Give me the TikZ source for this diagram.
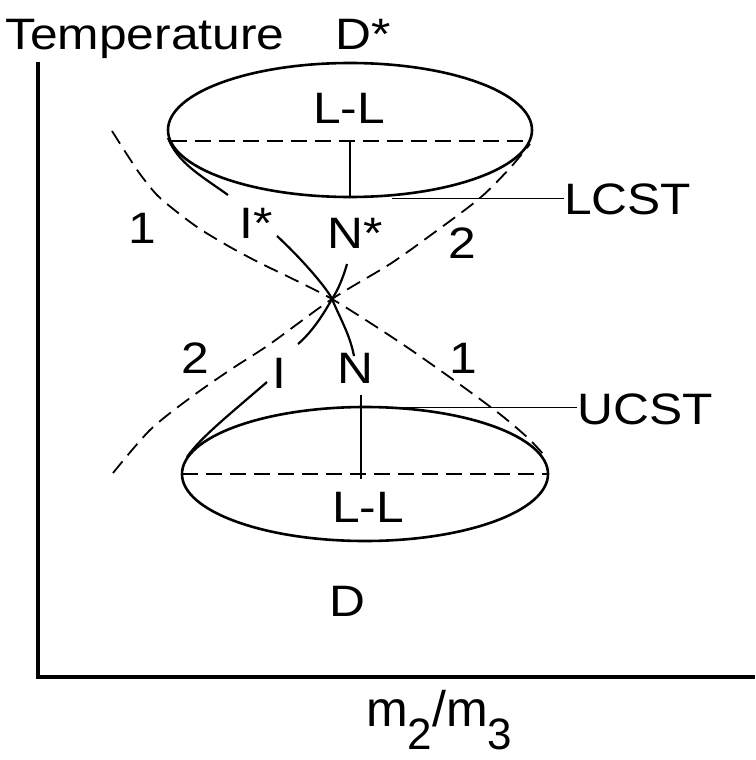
\documentclass[tikz,border=0pt]{standalone}
\usepackage{fontspec}
\setmainfont[FakeStretch=1.13]{Liberation Sans}
\newfontfamily\ratiofont{Liberation Sans}
\usetikzlibrary{positioning,calc}

\begin{document}
\begin{tikzpicture}[
    x=1pt, y=-1pt,
    every node/.style={font=\fontsize{44}{44}\selectfont, inner sep=0pt},
    rim/.style={line width=2.6pt},
    branch/.style={line width=2.2pt},
    binodal/.style={line width=1.8pt, dash pattern=on 15pt off 8pt},
    tieline/.style={line width=1.8pt, dash pattern=on 16pt off 8pt},
    leader/.style={line width=0.9pt}
]
\useasboundingbox (0,0) rectangle (755,760);

% Axes
\draw[line width=4pt] (37.5,62) -- (37.5,676.5) -- (755,676.5);
\node[anchor=base west] (temp) at (5,50) {Temperature};
\node[anchor=base west, font=\ratiofont\fontsize{50}{50}\selectfont] (ratio) at (366,726)
    {m\raisebox{-23pt}{\fontsize{44}{44}\selectfont 2}/m\raisebox{-23pt}{\fontsize{44}{44}\selectfont 3}};

% Upper closed loop (LCST side)
\draw[rim] (350,130) ellipse (182 and 67);
\draw[tieline] (170.5,141) -- (529.5,141);
\draw[rim] (350,141) -- (350,197);
\coordinate (lcstfoot) at (392,198);
\node[anchor=base] (llup) at (349,123) {L-L};
\node[anchor=base west] (dstar) at (335,50) {D*};

% Lower closed loop (UCST side)
\draw[rim] (365,474) ellipse (183 and 67);
\draw[tieline] (182,474) -- (548,474);
\draw[rim] (361,395) -- (361,479);
\coordinate (ucstfoot) at (361,407);
\node[anchor=base] (lllow) at (368,522) {L-L};
\node[anchor=base] (d) at (347,616) {D};

% Leaders to the critical temperatures
\node[anchor=base west] (lcst) at (564,214) {LCST};
\node[anchor=base west] (ucst) at (577,424) {UCST};
\draw[leader] (lcstfoot) -- (lcst.west |- lcstfoot);
\draw[leader] (ucstfoot) -- (ucst.west |- ucstfoot);

% Dashed curves 1 and 2
\draw[binodal] plot[smooth, tension=0.5] coordinates {
    (112,131) (126,153) (140,174) (157,195) (177,212) (200,229) (230,247)
    (260,263) (295,280) (332,299) (375,326) (414,352) (462,386) (501,415)
    (528,438) (544,455)};
\draw[binodal] plot[smooth, tension=0.5] coordinates {
    (113,473) (150,430) (190,398) (230,370) (270,344) (332,299)
    (390,264) (435,232) (480,198) (510,168) (530,144)};
\node[anchor=base] (onea) at (142,243) {1};
\node[anchor=base] (twoa) at (462,258) {2};
\node[anchor=base] (twob) at (195,373) {2};
\node[anchor=base] (oneb) at (463,373) {1};

% Solid branches through the crossing point
\draw[branch] (277,236) .. controls (305,262) and (328,290) .. (332,299)
    .. controls (340,318) and (350,335) .. (354,356);
\draw[branch] (347,264) .. controls (343,278) and (338,290) .. (332,299)
    .. controls (323,315) and (312,332) .. (298,344);
\draw[branch] (168,138) .. controls (178,163) and (200,175) .. (228,195);
\draw[branch] (187,457) .. controls (200,438) and (230,414) .. (267,382);
\node[anchor=base west] (istar) at (239,238) {I*};
\node[anchor=base west] (nstar) at (327,248) {N*};
\node[anchor=base] (i) at (279,388) {I};
\node[anchor=base] (n) at (355,383) {N};

\end{tikzpicture}
\end{document}
